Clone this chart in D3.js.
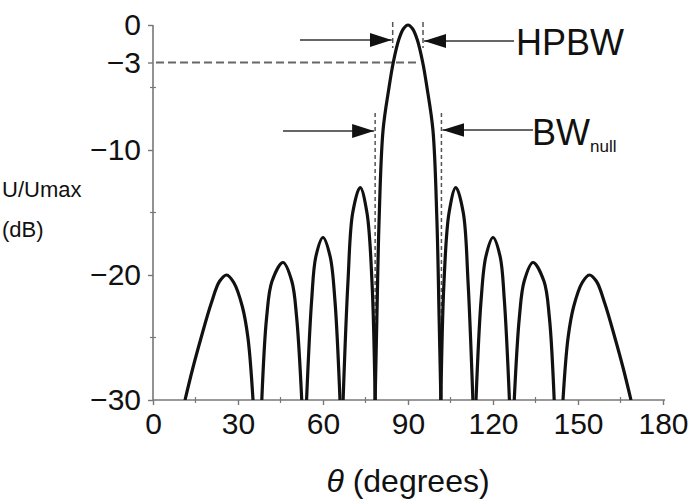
<!doctype html>
<html>
<head>
<style>
  body { margin: 0; background: #fff; }
  text { font-family: "Liberation Sans", Arial, sans-serif; fill: #111; }
</style>
<script src="https://d3js.org/d3.v7.min.js"></script>
</head>
<body>
<svg id="chart" width="695" height="503"></svg>
<script>
// lobes of the pattern (theta in degrees, level in dB)
var lobeTheta = [
  [11.3, 14, 17, 20.5, 23.5, 26, 28.5, 31.5, 33.5, 35.3],
  [38.4, 40.1, 42, 45.9, 49, 50.7, 52.5],
  [54.2, 56, 57.5, 60, 62.5, 64.2, 66],
  [67.1, 68.8, 70.5, 73.1, 75.5, 77.3, 78.4],
  [78.4, 79, 79.8, 81.2, 83.3, 84.8, 86.7, 88.4, 90, 91.6, 93.3, 95.2, 96.7, 98.8, 100.2, 101, 101.6],
  [101.6, 102.7, 104.5, 106.9, 109.5, 111.2, 112.9],
  [114, 115.8, 117.5, 120, 122.5, 124, 125.8],
  [127.5, 129.3, 131, 134.1, 138, 139.9, 141.6],
  [144.7, 146.5, 148.5, 151.5, 154, 156.5, 159.5, 163, 166, 168.7]
];
var lobeDb = [
  [-30, -27.5, -25, -22.3, -20.5, -20, -20.6, -22.5, -25, -30],
  [-30, -23.4, -20.5, -19, -20.5, -23.4, -30],
  [-30, -22, -18.5, -17, -18.5, -22, -30],
  [-30, -20.6, -15, -13, -15, -20.6, -30],
  [-30, -23.6, -15.6, -8.4, -5, -3, -1.2, -0.3, 0, -0.3, -1.2, -3, -5, -8.4, -15.6, -23.6, -30],
  [-30, -20.6, -15, -13, -15, -20.6, -30],
  [-30, -22, -18.5, -17, -18.5, -22, -30],
  [-30, -23.4, -20.5, -19, -20.5, -23.4, -30],
  [-30, -25, -22.5, -20.6, -20, -20.5, -22.3, -25, -27.5, -30]
];

var xTicks = [0, 30, 60, 90, 120, 150, 180];
var xMinor = [15, 45, 75, 105, 135, 165];
var yTicks = [0, -3, -10, -20, -30];
var yMinor = [-5, -15, -25];

var hpbwEdges = [84.6, 95.3];
var nullEdges = [78.4, 101.8];
var halfPower = -3;

var svg = d3.select("#chart");
var x = d3.scaleLinear().domain([0, 180]).range([153, 663]);
var y = d3.scaleLinear().domain([-30, 0]).range([400, 25]);

svg.append("defs").append("clipPath").attr("id", "plot")
  .append("rect").attr("x", 153).attr("y", 10).attr("width", 520).attr("height", 390);

svg.append("defs").append("marker")
  .attr("id", "head")
  .attr("viewBox", "0 0 22 14")
  .attr("refX", 22).attr("refY", 7)
  .attr("markerWidth", 22).attr("markerHeight", 14)
  .attr("markerUnits", "userSpaceOnUse")
  .attr("orient", "auto")
  .append("path").attr("d", "M0,0 L22,7 L0,14 Z").attr("fill", "#111");

// axes
var xAxis = svg.append("g")
  .attr("transform", "translate(0," + y(-30) + ")")
  .call(d3.axisBottom(x).tickValues(xTicks).tickSize(5).tickPadding(8).tickFormat(d3.format("d")));
var yAxis = svg.append("g")
  .attr("transform", "translate(" + x(0) + ",0)")
  .call(d3.axisLeft(y).tickValues(yTicks).tickSize(5).tickPadding(7)
    .tickFormat(function(d) { return d < 0 ? "\u2212" + (-d) : d; }));

[xAxis, yAxis].forEach(function(a) {
  a.select(".domain").attr("stroke", "#777").attr("stroke-width", 1.6);
  a.selectAll(".tick line").attr("stroke", "#777").attr("stroke-width", 1.4);
  a.selectAll(".tick text").attr("font-size", 30).attr("fill", "#111")
    .attr("font-family", "Liberation Sans, Arial, sans-serif");
});
xAxis.select(".domain").attr("d", "M" + x(0) + ",0H" + (x(180) + 2));
yAxis.select(".domain").attr("d", "M0," + y(0) + "V" + y(-30));

svg.append("g").selectAll("line").data(xMinor).enter().append("line")
  .attr("x1", function(d) { return x(d); }).attr("x2", function(d) { return x(d); })
  .attr("y1", y(-30) - 3).attr("y2", y(-30) + 3)
  .attr("stroke", "#777").attr("stroke-width", 1.2);
svg.append("g").selectAll("line").data(yMinor).enter().append("line")
  .attr("y1", function(d) { return y(d); }).attr("y2", function(d) { return y(d); })
  .attr("x1", x(0) - 3).attr("x2", x(0) + 3)
  .attr("stroke", "#777").attr("stroke-width", 1.2);

// -3 dB reference
svg.append("line")
  .attr("x1", x(0) + 3).attr("x2", x(hpbwEdges[1]) - 4)
  .attr("y1", y(halfPower)).attr("y2", y(halfPower))
  .attr("stroke", "#666").attr("stroke-width", 2).attr("stroke-dasharray", "8,4");

// null markers
svg.append("g").selectAll("line").data(nullEdges).enter().append("line")
  .attr("x1", function(d) { return x(d); }).attr("x2", function(d) { return x(d); })
  .attr("y1", 113).attr("y2", y(-30))
  .attr("stroke", "#555").attr("stroke-width", 1.5).attr("stroke-dasharray", "4,3");
svg.append("g").selectAll("line").data(hpbwEdges).enter().append("line")
  .attr("x1", function(d) { return x(d); }).attr("x2", function(d) { return x(d); })
  .attr("y1", 22).attr("y2", 48)
  .attr("stroke", "#555").attr("stroke-width", 1.5).attr("stroke-dasharray", "5,3");

// pattern
var line = d3.line()
  .x(function(d) { return x(d[0]); })
  .y(function(d) { return y(d[1]); })
  .curve(d3.curveCatmullRom.alpha(0.5));

svg.append("g").attr("clip-path", "url(#plot)")
  .selectAll("path").data(lobeTheta).enter().append("path")
  .attr("d", function(t, i) { return line(t.map(function(v, j) { return [v, lobeDb[i][j]]; })); })
  .attr("fill", "none").attr("stroke", "#111").attr("stroke-width", 3.2);

// arrows
function arrow(x1, x2, yy) {
  svg.append("line").attr("x1", x1).attr("x2", x2).attr("y1", yy).attr("y2", yy)
    .attr("stroke", "#333").attr("stroke-width", 1.6).attr("marker-end", "url(#head)");
}
arrow(300, x(hpbwEdges[0]) - 1, 40);
arrow(514, x(hpbwEdges[1]) + 1, 41);
arrow(283, x(nullEdges[0]) - 1, 131);
arrow(533, x(nullEdges[1]) + 1, 130);

svg.append("text").attr("x", 516).attr("y", 55).attr("font-size", 36).text("HPBW");
var bw = svg.append("text").attr("x", 532).attr("y", 145).attr("font-size", 36).text("BW");
bw.append("tspan").attr("font-size", 17).attr("dy", 7).text("null");

svg.append("text").attr("x", 2).attr("y", 197).attr("font-size", 22).text("U/Umax");
svg.append("text").attr("x", 2).attr("y", 237).attr("font-size", 22).text("(dB)");

var xt = svg.append("text").attr("x", x(90)).attr("y", 492)
  .attr("text-anchor", "middle").attr("font-size", 32);
xt.append("tspan").attr("font-style", "italic").text("\u03b8");
xt.append("tspan").text(" (degrees)");
</script>
</body>
</html>
